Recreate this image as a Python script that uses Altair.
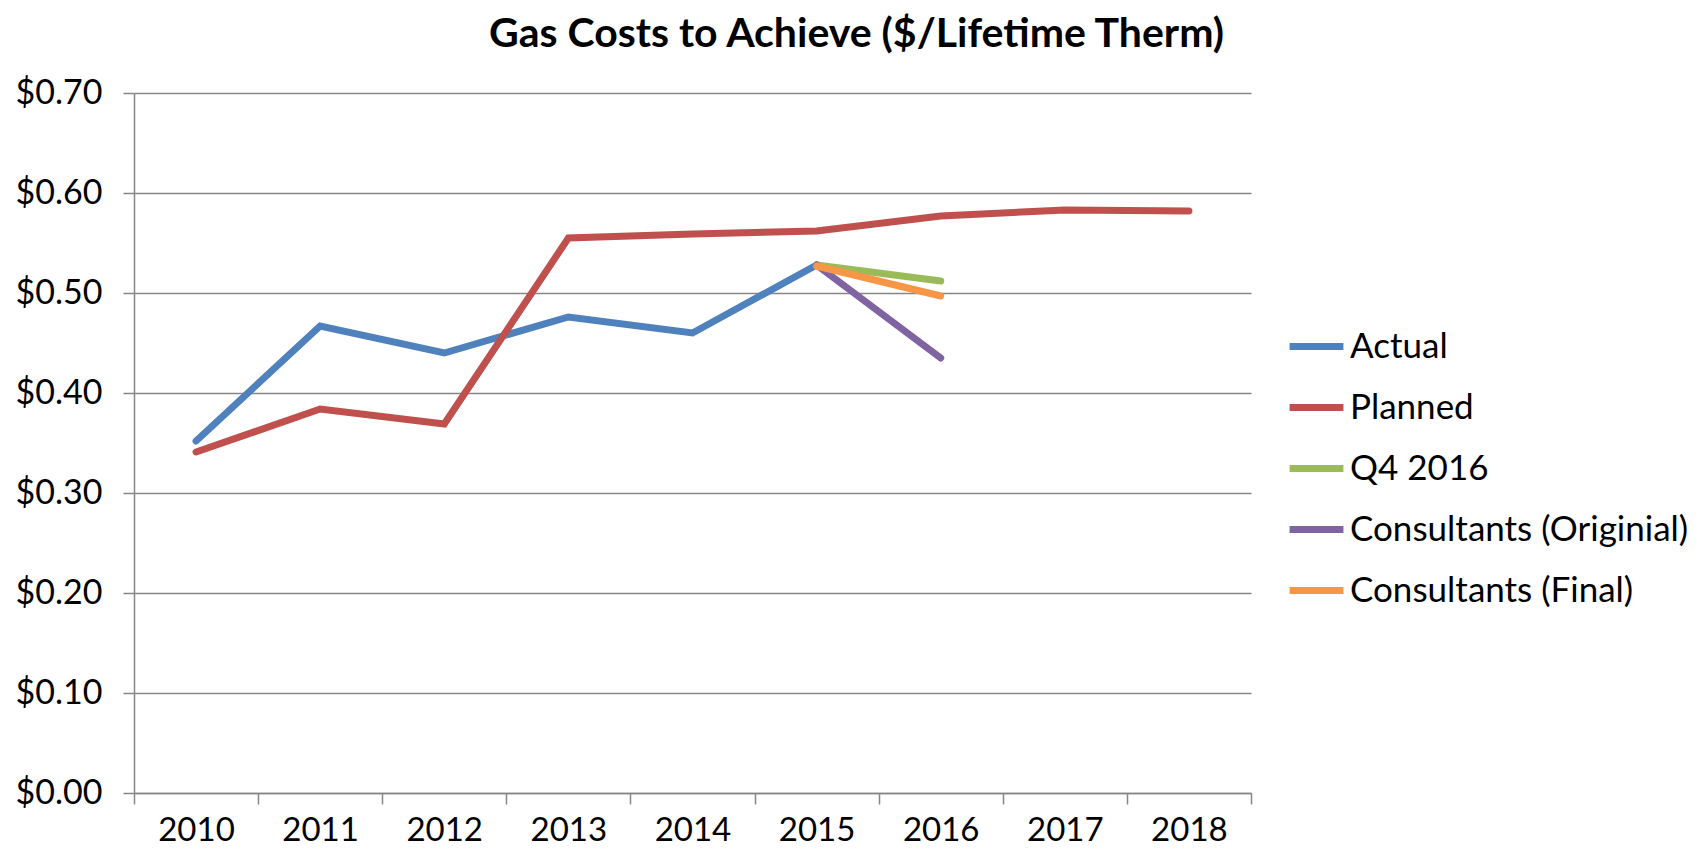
import altair as alt
import pandas as pd

years = [2010, 2011, 2012, 2013, 2014, 2015, 2016, 2017, 2018]
series_names = ["Actual", "Planned", "Q4 2016", "Consultants (Originial)", "Consultants (Final)"]
colors = ["#4F81BD", "#C0504D", "#9BBB59", "#8064A2", "#F79646"]

actual = [0.352, 0.467, 0.440, 0.476, 0.460, 0.528]
planned = [0.341, 0.384, 0.369, 0.555, 0.559, 0.562, 0.577, 0.583, 0.582]
q4_2016 = [0.528, 0.512]
cons_orig = [0.528, 0.435]
cons_final = [0.527, 0.497]
forecast_years = [2015, 2016]

y_ticks = [0.0, 0.1, 0.2, 0.3, 0.4, 0.5, 0.6, 0.7]
x_boundaries = [2009.5, 2010.5, 2011.5, 2012.5, 2013.5, 2014.5, 2015.5, 2016.5, 2017.5, 2018.5]

rows = []
for s, ys, vals in [
    ("Actual", years[: len(actual)], actual),
    ("Planned", years, planned),
    ("Q4 2016", forecast_years, q4_2016),
    ("Consultants (Originial)", forecast_years, cons_orig),
    ("Consultants (Final)", forecast_years, cons_final),
]:
    for yr, v in zip(ys, vals):
        rows.append({"series": s, "year": yr, "value": v, "order": series_names.index(s)})
df = pd.DataFrame(rows)

FONT = "Lato"
GRID = "#868686"

lines = alt.Chart(df).mark_line(strokeWidth=7, strokeCap="round", strokeJoin="miter").encode(
    x=alt.X(
        "year:Q",
        scale=alt.Scale(domain=[x_boundaries[0], x_boundaries[-1]], nice=False, zero=False),
        axis=alt.Axis(
            title=None,
            values=x_boundaries,
            labelExpr="datum.value < 2018 ? format(datum.value + 0.5, 'd') : ''",
            labelOffset=62,
            labelOverlap=False,
            labelFlush=False,
            labelBound=False,
            tickSize=11,
            tickColor=GRID,
            tickWidth=1.5,
            domainColor=GRID,
            domainWidth=1.5,
            grid=False,
            labelFont=FONT,
            labelFontSize=33,
            labelColor="black",
            labelPadding=10,
        ),
    ),
    y=alt.Y(
        "value:Q",
        scale=alt.Scale(domain=[0, 0.7], nice=False),
        axis=alt.Axis(
            title=None,
            values=y_ticks,
            format="$.2f",
            tickSize=11,
            tickColor=GRID,
            tickWidth=1.5,
            domainColor=GRID,
            domainWidth=1.5,
            grid=True,
            gridColor=GRID,
            gridWidth=1.5,
            labelFont=FONT,
            labelFontSize=34,
            labelColor="black",
            labelPadding=21,
        ),
    ),
    color=alt.Color(
        "series:N",
        scale=alt.Scale(domain=series_names, range=colors),
        sort=series_names,
        legend=alt.Legend(
            title=None,
            orient="none",
            legendX=1152,
            legendY=223,
            symbolType="stroke",
            symbolStrokeWidth=7,
            symbolSize=2900,
            labelFont=FONT,
            labelFontSize=35,
            labelColor="black",
            labelOffset=3,
            labelLimit=0,
            rowPadding=12,
        ),
    ),
    order=alt.Order("order:Q"),
    detail="series:N",
)

chart = alt.layer(lines).properties(
    width=1117,
    height=700,
    padding={"left": 126, "top": 85, "right": 440, "bottom": 55},
    autosize=alt.AutoSizeParams(type="none"),
    title=alt.TitleParams(
        "Gas Costs to Achieve ($/Lifetime Therm)",
        font=FONT,
        fontSize=41,
        fontWeight="bold",
        color="black",
        anchor="middle",
        frame="group",
        dx=164,
        offset=20,
    ),
).configure_view(stroke=None)

chart.save("out.html", embed_options={"renderer": "svg", "actions": False})
